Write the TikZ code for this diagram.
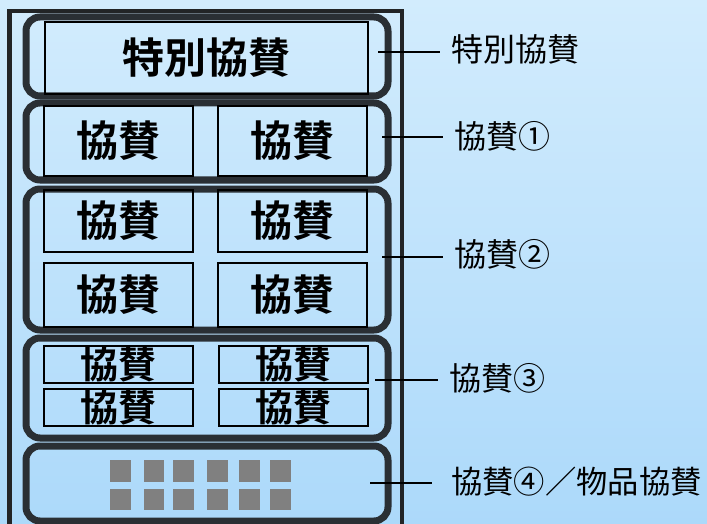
\documentclass[tikz,border=0pt]{standalone}
\usepackage{fontspec}
\newfontfamily\jp{Noto Sans CJK JP}
\newfontfamily\jpb{Noto Sans CJK JP Bold}
\definecolor{bgtop}{RGB}{210,236,253}
\definecolor{bgbot}{RGB}{172,217,250}
\definecolor{frame}{RGB}{34,36,38}
\definecolor{grp}{RGB}{42,47,52}
\definecolor{sq}{RGB}{128,128,128}
\tikzset{
  grpbox/.style={draw=grp, line width=7pt, rounded corners=14pt},
  sbox/.style={draw=black, line width=2pt, inner sep=0pt, font=\jpb\fontsize{42}{42}\selectfont},
  smallbox/.style={draw=black, line width=2pt, inner sep=0pt, minimum width=149pt, minimum height=37pt, font=\jpb\fontsize{38}{38}\selectfont},
  lbl/.style={anchor=west, inner xsep=11pt, inner ysep=0pt, font=\jp\fontsize{32}{32}\selectfont, text=black},
  leader/.style={draw=black, line width=1.5pt},
  sqr/.style={fill=sq}
}
\begin{document}
\begin{tikzpicture}[x=1pt,y=-1pt]
\useasboundingbox (0,0) rectangle (707,524);
\shade[top color=bgtop, bottom color=bgbot] (0,0) rectangle (707,524);
% outer frame
\draw[frame, line width=4.5pt] (9.5,540) -- (9.5,11) -- (402,11) -- (402,540);
% groups
\draw[grpbox] (26,17) rectangle (388,96);
\draw[grpbox] (26,103) rectangle (388,180);
\draw[grpbox] (26,189) rectangle (388,330);
\draw[grpbox] (26,338) rectangle (388,438);
\draw[grpbox] (26,446) rectangle (388,521);
% boxes
\node[sbox, minimum width=323pt, minimum height=72pt] (sp) at (206.5,58) {特別協賛};
\node[sbox, minimum width=149pt, minimum height=70pt] (a1) at (118.5,141) {協賛};
\node[sbox, minimum width=149pt, minimum height=70pt] (a2) at (292.5,141) {協賛};
\node[sbox, minimum width=149pt, minimum height=62pt] (b1) at (118.5,221) {協賛};
\node[sbox, minimum width=149pt, minimum height=62pt] (b2) at (292.5,221) {協賛};
\node[sbox, minimum width=149pt, minimum height=64pt] (b3) at (118.5,295) {協賛};
\node[sbox, minimum width=149pt, minimum height=64pt] (b4) at (292.5,295) {協賛};
\node[smallbox] (c1) at (118.5,364.5) {協賛};
\node[smallbox] (c2) at (293,364.5) {協賛};
\node[smallbox] (c3) at (118.5,407.5) {協賛};
\node[smallbox] (c4) at (293,407.5) {協賛};
% gray squares
\foreach \x/\w in {110/21,144/20,173/21,207/21,239/21,270/21}{
  \fill[sqr] (\x,460) rectangle ++(\w,22);
  \fill[sqr] (\x,489) rectangle ++(\w,21);
}
% labels
\node[lbl] (l1) at (440,49) {特別協賛};
\node[lbl] (l2) at (443,136) {協賛①};
\node[lbl] (l3) at (443,254) {協賛②};
\node[lbl] (l4) at (438,378) {協賛③};
\node[lbl, inner xsep=19pt, font=\jp\fontsize{31.3}{31.3}\selectfont] (l5) at (432,482) {協賛④／物品協賛};
\coordinate (p1) at (378,52);
\coordinate (p2) at (382,137);
\coordinate (p3) at (382,257);
\coordinate (p4) at (375,380);
\coordinate (p5) at (370,483);
\draw[leader] (p1) -- (p1 -| l1.west);
\draw[leader] (p2) -- (p2 -| l2.west);
\draw[leader] (p3) -- (p3 -| l3.west);
\draw[leader] (p4) -- (p4 -| l4.west);
\draw[leader] (p5) -- (p5 -| l5.west);
\end{tikzpicture}
\end{document}
